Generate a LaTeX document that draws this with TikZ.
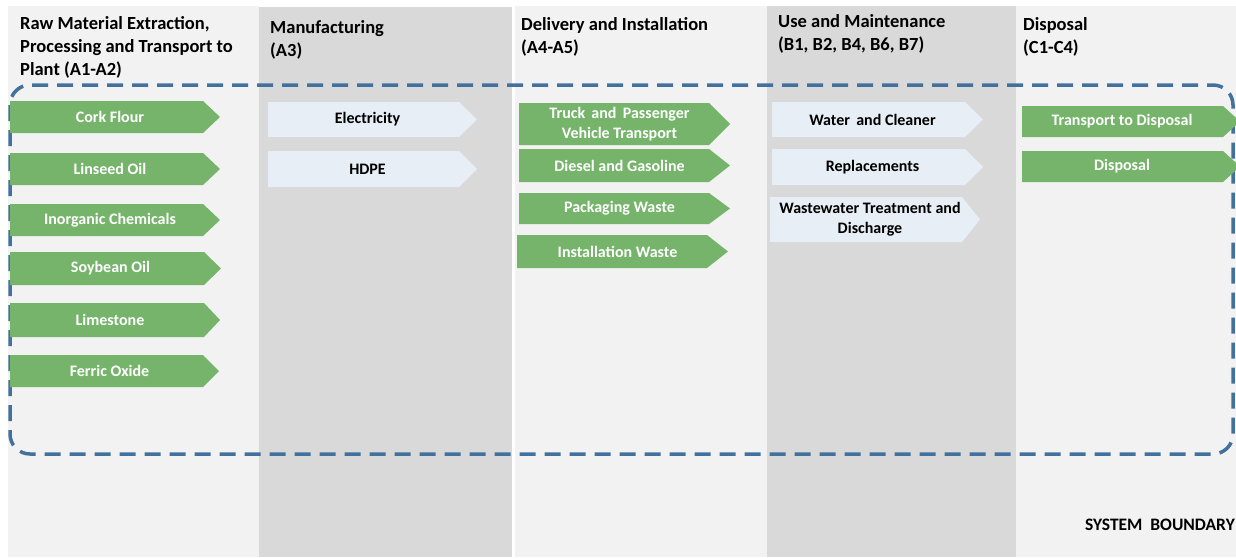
\documentclass[tikz,border=0pt]{standalone}
\usepackage{fontspec}
\setmainfont{Carlito}
\definecolor{lightbg}{HTML}{F2F2F2}
\definecolor{darkbg}{HTML}{D9D9D9}
\definecolor{gfill}{HTML}{75B46A}
\definecolor{lfill}{HTML}{E8EEF6}
\definecolor{bndcol}{HTML}{41719C}
% #1 text shift, #2 name, #3 x1, #4 y1, #5 x body end, #6 x tip, #7 y2, #8 g/l, #9 text
\newcommand\flowbox[9][-5]{%
  \fill[#8fill] (#3,#4) -- (#5,#4) -- (#6,{(#4+#7)/2}) -- (#5,#7) -- (#3,#7) -- cycle;
  \node[#8txt] (#2) at ({(#3+#6)/2+#1},{(#4+#7)/2}) {#9};
}
\begin{document}
\begin{tikzpicture}[x=1pt,y=-1pt,
  gtxt/.style={inner sep=0pt, align=center, text=white, font=\fontsize{16}{20}\selectfont\bfseries},
  ltxt/.style={inner sep=0pt, align=center, text=black, font=\fontsize{16}{20}\selectfont\bfseries},
  header/.style={inner sep=0pt, anchor=north west, align=left, font=\fontsize{18.5}{23}\selectfont\bfseries},
  boundary/.style={draw=bndcol, line width=3.5pt, dash pattern=on 16pt off 9pt, rounded corners=20pt}]
\useasboundingbox (0,0) rectangle (1236,557);
\clip (0,0) rectangle (1236,557);
\fill[white] (0,0) rectangle (1236,557);
% column backgrounds
\fill[lightbg] (8,6) rectangle (259,557);
\fill[darkbg] (259,7) rectangle (512,557);
\fill[lightbg] (515,6) rectangle (767,557);
\fill[darkbg] (767,6) rectangle (1016,557);
\fill[lightbg] (1016,6) rectangle (1236,557);
% headers
\node[header] (h1) at (20,16) {Raw Material Extraction,\\Processing and Transport to\\Plant (A1-A2)};
\node[header] (h2) at (270,20) {Manufacturing\\(A3)};
\node[header] (h3) at (521,17) {Delivery and Installation\\(A4-A5)};
\node[header] (h4) at (778,14) {Use and Maintenance\\(B1, B2, B4, B6, B7)};
\node[header] (h5) at (1023,17) {Disposal\\(C1-C4)};
% system boundary
\draw[boundary] (10,85) rectangle (1233,454);
% column 1
\flowbox{cork}{10}{101}{203}{220}{133}{g}{Cork Flour}
\flowbox{linseed}{10}{153}{203}{220}{185}{g}{Linseed Oil}
\flowbox{inorg}{10}{204}{203}{220}{236}{g}{Inorganic Chemicals}
\flowbox{soy}{10}{252}{204}{221}{285}{g}{Soybean Oil}
\flowbox{lime}{10}{303}{204}{220}{337}{g}{Limestone}
\flowbox{ferric}{10}{355}{203}{219}{387}{g}{Ferric Oxide}
% column 2
\flowbox{elec}{268}{102}{459}{477}{137}{l}{Electricity}
\flowbox{hdpe}{268}{151}{459}{477}{187}{l}{HDPE}
% column 3
\flowbox{truck}{519}{103}{709}{730}{145}{g}{Truck\, and\, Passenger\\Vehicle Transport}
\flowbox{diesel}{519}{149}{709}{730}{182}{g}{Diesel and Gasoline}
\flowbox{pack}{519}{193}{709}{730}{224}{g}{Packaging Waste}
\flowbox{inst}{517}{235}{707}{728}{268}{g}{Installation Waste}
% column 4
\flowbox{water}{772}{102}{965}{983}{137}{l}{Water\, and Cleaner}
\flowbox{repl}{772}{149}{965}{983}{185}{l}{Replacements}
\flowbox{waste}{770}{197}{962}{980}{242}{l}{Wastewater Treatment and\\Discharge}
% column 5
\flowbox[-9]{transp}{1022}{106}{1223}{1240}{137}{g}{Transport to Disposal}
\flowbox[-9]{disp}{1022}{151}{1223}{1240}{182}{g}{Disposal}
% label
\node[inner sep=0pt, anchor=base east, font=\fontsize{17.5}{20}\selectfont\bfseries] (sb) at (1235,530) {SYSTEM\hspace{0.45em}BOUNDARY};
\end{tikzpicture}
\end{document}
